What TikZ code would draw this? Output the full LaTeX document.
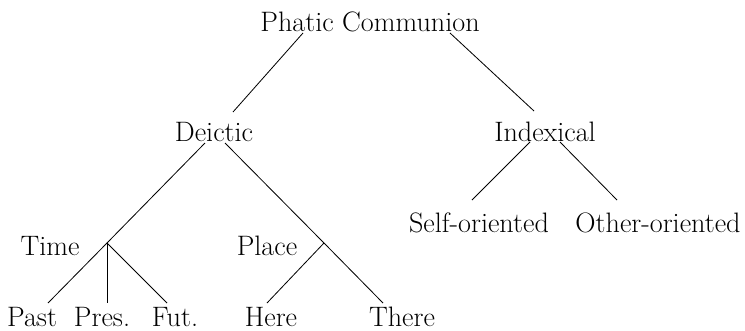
\documentclass[tikz,border=0pt]{standalone}
\usepackage{fontspec}
\usetikzlibrary{calc}
\begin{document}
\begin{tikzpicture}[x=0.03cm,y=-0.03cm,line width=0.7pt,
  lbl/.style={anchor=base,inner sep=0pt,font=\fontsize{24}{28}\selectfont}]
\useasboundingbox (0,0) rectangle (745,330);
\node[lbl] (phatic) at (370,31) {Phatic Communion};
\node[lbl] (deictic) at (214,141) {Deictic};
\node[lbl] (indexical) at (545,141) {Indexical};
\node[lbl] (self) at (479,232) {Self-oriented};
\node[lbl] (other) at (658,232) {Other-oriented};
\node[lbl] (time) at (50,255) {Time};
\node[lbl] (place) at (267,255) {Place};
\node[lbl] (past) at (32,326) {Past};
\node[lbl] (pres) at (102,326) {Pres.};
\node[lbl] (fut) at (175,326) {Fut.};
\node[lbl] (here) at (271,326) {Here};
\node[lbl] (there) at (402,326) {There};
\coordinate (tj) at (107,243);
\coordinate (pj) at (324,243);
\draw ($(phatic.base)+(-67,2)$) -- ($(deictic.base)+(19,-29)$);
\draw ($(phatic.base)+(80,2)$) -- ($(indexical.base)+(-11,-30)$);
\draw ($(indexical.base)+(-15,1)$) -- ($(self.base)+(-7,-32)$);
\draw ($(indexical.base)+(15,1)$) -- ($(other.base)+(-41,-32)$);
\draw ($(deictic.base)+(-9,2)$) -- (tj);
\draw ($(deictic.base)+(11,2)$) -- (pj) -- ($(there.base)+(-19,-23)$);
\draw (tj) -- ($(past.base)+(16,-23)$);
\draw (tj) -- ($(pres.base)+(5,-23)$);
\draw (tj) -- ($(fut.base)+(-8,-23)$);
\draw (pj) -- ($(here.base)+(-4,-23)$);
\end{tikzpicture}
\end{document}
